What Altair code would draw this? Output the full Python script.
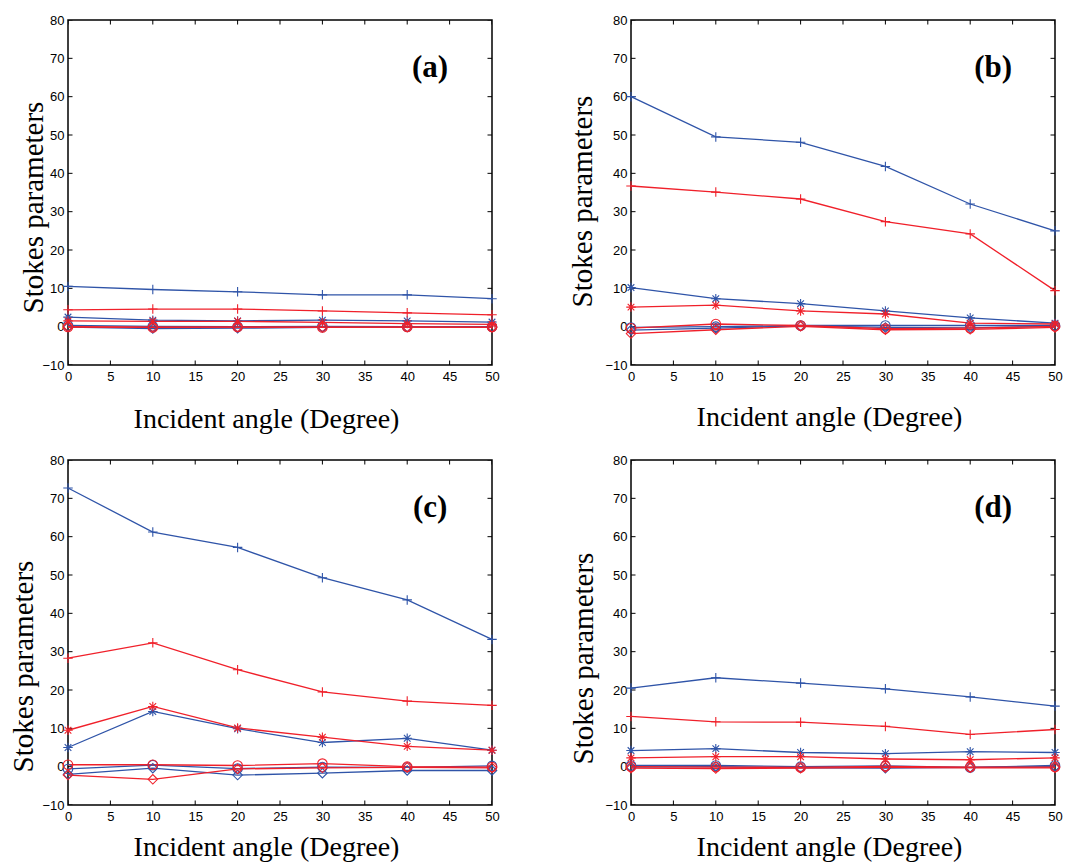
import altair as alt
import pandas as pd

angles = [0, 10, 20, 30, 40, 50]
x_tick_values = [0, 5, 10, 15, 20, 25, 30, 35, 40, 45, 50]
y_tick_values = [-10, 0, 10, 20, 30, 40, 50, 60, 70, 80]

series_names = ["S0 blue", "S1 blue", "S2 blue", "S3 blue",
                "S0 red", "S1 red", "S2 red", "S3 red"]
BLUE = "#2f54a8"
RED = "#f0202a"
series_colors = [BLUE, BLUE, BLUE, BLUE, RED, RED, RED, RED]
PLUS = "M-1,0L1,0M0,-1L0,1"
STAR = "M-1,0L1,0M0,-1L0,1M-0.7,-0.7L0.7,0.7M-0.7,0.7L0.7,-0.7"
series_shapes = [PLUS, STAR, "circle", "diamond", PLUS, STAR, "circle", "diamond"]

# Panel (a)
a_s0_blue = [10.5, 9.7, 9.1, 8.3, 8.3, 7.3]
a_s1_blue = [2.5, 1.7, 1.5, 1.7, 1.5, 1.2]
a_s2_blue = [0.3, 0.1, 0.0, 0.1, 0.0, 0.0]
a_s3_blue = [-0.1, -0.5, -0.4, -0.2, -0.1, -0.1]
a_s0_red = [4.4, 4.6, 4.6, 4.1, 3.6, 3.1]
a_s1_red = [1.5, 1.4, 1.4, 1.1, 0.8, 0.6]
a_s2_red = [-0.1, -0.2, -0.1, -0.2, -0.1, -0.1]
a_s3_red = [0.0, -0.1, -0.1, -0.1, -0.1, -0.2]

# Panel (b)
b_s0_blue = [60.0, 49.5, 48.1, 41.8, 32.0, 25.0]
b_s1_blue = [10.2, 7.3, 6.0, 4.1, 2.3, 0.9]
b_s2_blue = [-0.2, 0.0, 0.3, 0.3, 0.3, 0.3]
b_s3_blue = [-0.9, -0.4, 0.2, -0.2, -0.3, 0.1]
b_s0_red = [36.7, 35.1, 33.3, 27.4, 24.2, 9.4]
b_s1_red = [5.1, 5.6, 4.1, 3.3, 0.9, 0.7]
b_s2_red = [-0.4, 0.7, 0.3, -0.5, -0.4, 0.1]
b_s3_red = [-1.8, -0.8, 0.1, -0.8, -0.7, -0.2]

# Panel (c)
c_s0_blue = [72.7, 61.2, 57.2, 49.3, 43.5, 33.2]
c_s1_blue = [5.0, 14.4, 9.9, 6.3, 7.4, 4.3]
c_s2_blue = [-0.6, 0.4, -0.5, -0.1, -0.2, 0.2]
c_s3_blue = [-2.0, -0.4, -2.2, -1.7, -1.0, -1.0]
c_s0_red = [28.3, 32.3, 25.3, 19.5, 17.1, 16.0]
c_s1_red = [9.5, 15.7, 10.1, 7.7, 5.3, 4.3]
c_s2_red = [0.5, 0.5, 0.3, 0.8, 0.0, -0.1]
c_s3_red = [-2.2, -3.3, -0.6, -0.3, -0.2, -0.3]

# Panel (d)
d_s0_blue = [20.5, 23.2, 21.8, 20.3, 18.2, 15.8]
d_s1_blue = [4.2, 4.7, 3.7, 3.4, 3.9, 3.7]
d_s2_blue = [0.3, 0.3, 0.0, 0.2, -0.2, 0.3]
d_s3_blue = [-0.1, 0.0, -0.3, -0.4, -0.2, 0.0]
d_s0_red = [13.1, 11.7, 11.6, 10.5, 8.4, 9.7]
d_s1_red = [2.3, 2.6, 2.6, 2.0, 1.8, 2.3]
d_s2_red = [0.0, -0.1, -0.2, 0.1, -0.1, -0.1]
d_s3_red = [-0.4, -0.5, -0.4, -0.2, -0.3, -0.3]

panel_labels = ["(a)", "(b)", "(c)", "(d)"]
label_x = 42.7
label_y = 67.5

W, H = 424, 345


def build_df(series_lists):
    rows = []
    for name, vals in zip(series_names, series_lists):
        for a, v in zip(angles, vals):
            rows.append({"angle": a, "value": v, "series": name})
    return pd.DataFrame(rows)


def x_enc(xt_y):
    return alt.X(
        "angle:Q",
        scale=alt.Scale(domain=[0, 50], nice=False, zero=False),
        axis=alt.Axis(
            values=x_tick_values, ticks=False, domain=False, grid=False,
            labelFont="Liberation Sans", labelFontSize=13, labelColor="black",
            labelPadding=5, labelFlush=False, labelOverlap=False,
            title="Incident angle (Degree)", titleFont="Liberation Serif",
            titleFontSize=28, titleFontWeight="normal", titleColor="black",
            titleX=198, titleY=xt_y, titleBaseline="middle", titleAlign="center",
        ),
    )


def y_enc(yt_x, yt_y):
    return alt.Y(
        "value:Q",
        scale=alt.Scale(domain=[-10, 80], nice=False, zero=False),
        axis=alt.Axis(
            values=y_tick_values, ticks=False, domain=False, grid=False,
            labelFont="Liberation Sans", labelFontSize=13, labelColor="black",
            labelPadding=4, labelOverlap=False,
            title="Stokes parameters", titleFont="Liberation Serif",
            titleFontSize=29, titleFontWeight="normal", titleColor="black",
            titleX=yt_x, titleY=yt_y, titleBaseline="middle", titleAlign="center",
            titleAngle=270,
        ),
    )


def panel(series_lists, label, xt_y, yt_x, yt_y):
    df = build_df(series_lists)
    X = x_enc(xt_y)
    Y = y_enc(yt_x, yt_y)
    color = alt.Color("series:N", scale=alt.Scale(domain=series_names, range=series_colors), legend=None)
    shape = alt.Shape("series:N", scale=alt.Scale(domain=series_names, range=series_shapes), legend=None)

    lines = alt.Chart(df).mark_line(strokeWidth=1.3).encode(x=X, y=Y, color=color)
    points = alt.Chart(df).mark_point(filled=False, size=90, strokeWidth=1.1, opacity=1).encode(
        x=X, y=Y, color=color, shape=shape)

    xt_bottom = pd.DataFrame({"angle": x_tick_values, "value": [-10] * len(x_tick_values)})
    xt_top = pd.DataFrame({"angle": x_tick_values, "value": [80] * len(x_tick_values)})
    yt_left = pd.DataFrame({"angle": [0] * len(y_tick_values), "value": y_tick_values})
    yt_right = pd.DataFrame({"angle": [50] * len(y_tick_values), "value": y_tick_values})

    tick_v = lambda d: alt.Chart(d).mark_tick(orient="vertical", size=9, thickness=1,
                                              color="black", clip=True, opacity=1).encode(x=X, y=Y)
    tick_h = lambda d: alt.Chart(d).mark_tick(orient="horizontal", size=9, thickness=1,
                                              color="black", clip=True, opacity=1).encode(x=X, y=Y)

    lab = pd.DataFrame({"angle": [label_x], "value": [label_y], "text": [label]})
    text = alt.Chart(lab).mark_text(font="Liberation Serif", fontWeight="bold", fontSize=31,
                                    align="center", baseline="middle", color="black").encode(
        x=X, y=Y, text="text:N")

    return alt.layer(tick_v(xt_bottom), tick_v(xt_top), tick_h(yt_left), tick_h(yt_right),
                     lines, points, text).properties(width=W, height=H)


pa = panel([a_s0_blue, a_s1_blue, a_s2_blue, a_s3_blue, a_s0_red, a_s1_red, a_s2_red, a_s3_red],
           panel_labels[0], 54, -35, 187)
pb = panel([b_s0_blue, b_s1_blue, b_s2_blue, b_s3_blue, b_s0_red, b_s1_red, b_s2_red, b_s3_red],
           panel_labels[1], 52, -49, 181)
pc = panel([c_s0_blue, c_s1_blue, c_s2_blue, c_s3_blue, c_s0_red, c_s1_red, c_s2_red, c_s3_red],
           panel_labels[2], 42, -45, 206)
pd_ = panel([d_s0_blue, d_s1_blue, d_s2_blue, d_s3_blue, d_s0_red, d_s1_red, d_s2_red, d_s3_red],
            panel_labels[3], 42, -48, 198)

chart = alt.concat(pa, pb, pc, pd_, columns=2, spacing={"row": 95, "column": 139},
                   bounds="flush").configure_view(
    stroke="black", strokeWidth=1.5
).properties(
    padding={"left": 0, "top": 5, "right": 5, "bottom": 0},
    background="white",
)

chart.save("out.html", embed_options={"renderer": "svg", "actions": False})
